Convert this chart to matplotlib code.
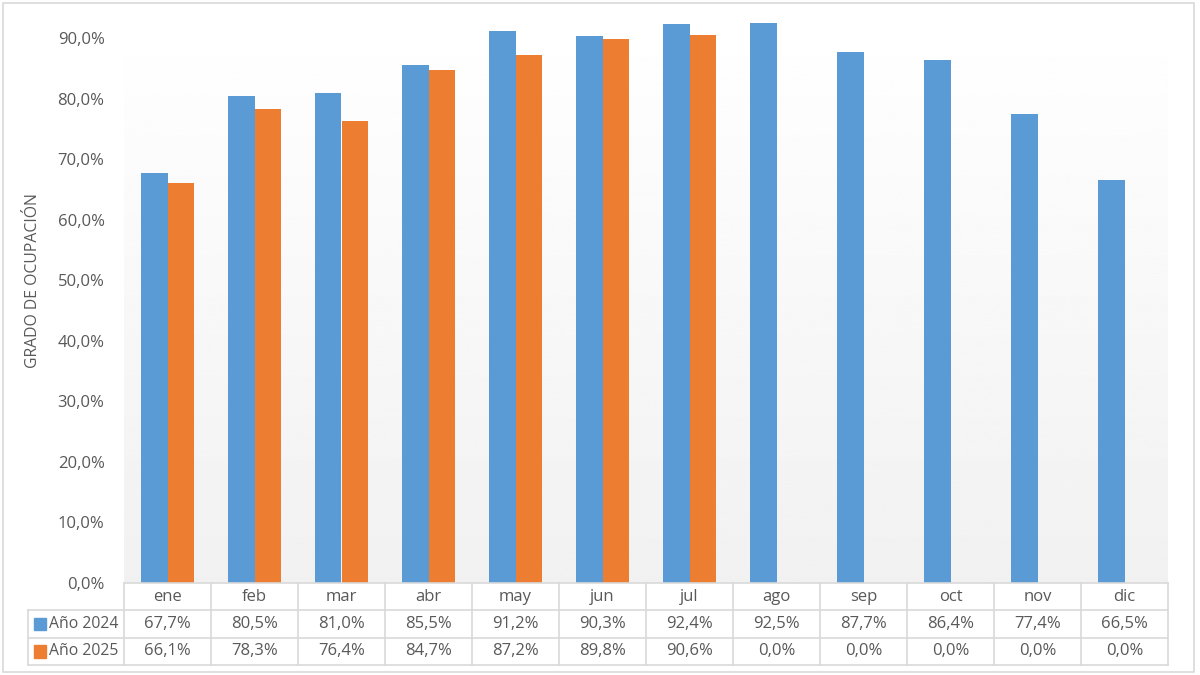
import numpy as np
import matplotlib.pyplot as plt
from matplotlib.patches import Rectangle
from matplotlib.ticker import FuncFormatter

plt.rcParams['font.family'] = ['Open Sans', 'DejaVu Sans']

meses = ['ene', 'feb', 'mar', 'abr', 'may', 'jun', 'jul', 'ago', 'sep', 'oct', 'nov', 'dic']
series = ['Año 2024', 'Año 2025']
ocup_2024 = [67.7, 80.5, 81.0, 85.5, 91.2, 90.3, 92.4, 92.5, 87.7, 86.4, 77.4, 66.5]
ocup_2025 = [66.1, 78.3, 76.4, 84.7, 87.2, 89.8, 90.6, 0.0, 0.0, 0.0, 0.0, 0.0]
colores = ['#5B9BD5', '#ED7D31']

W, H = 1200, 675
fig = plt.figure(figsize=(12, 6.75), dpi=100)
gris_txt = '#595959'
gris_lin = '#D9D9D9'

# plot area in pixels
x0, x1 = 124, 1168
y_top, y_zero, y_bot = 14, 583, 665

ax = fig.add_axes([x0 / W, 1 - y_zero / H, (x1 - x0) / W, (y_zero - y_top) / H])
ax.set_xlim(-0.5, 11.5)
ax.set_ylim(0, 94)

# gradient background
grad = np.linspace(0.945, 1.0, 256).reshape(-1, 1)
ax.imshow(grad, extent=[0, 1, 0, 1], transform=ax.transAxes, cmap='gray',
          vmin=0, vmax=1, aspect='auto', zorder=0, origin='lower')

x = np.arange(len(meses))
bw = 0.305
ax.bar(x - bw / 2, ocup_2024, bw, color=colores[0], zorder=2)
ax.bar(x + bw / 2, ocup_2025, bw, color=colores[1], zorder=2)

ax.set_yticks(np.arange(0, 91, 10))
ax.yaxis.set_major_formatter(FuncFormatter(lambda v, p: f'{v:.1f}%'.replace('.', ',')))
ax.tick_params(axis='y', length=0, labelsize=12, labelcolor=gris_txt, pad=14)
ax.set_xticks([])
for s in ax.spines.values():
    s.set_visible(False)
fig.text(33 / W, 1 - 281 / H, 'GRADO DE OCUPACIÓN', rotation=90, ha='center', va='center',
         fontsize=11.3, color=gris_txt)

# data table below
tab = fig.add_axes([x0 / W, 1 - y_bot / H, (x1 - x0) / W, (y_bot - y_zero) / H])
tab.set_xlim(-0.5, 11.5)
tab.set_ylim(3, 0)
tab.axis('off')
lk = dict(color=gris_lin, lw=1.2, clip_on=False)
col_px = (x1 - x0) / 12
x_leg = -0.5 + (28 - x0) / col_px

tab.plot([-0.5, 11.5], [0, 0], **lk)
for r in (1, 2, 3):
    tab.plot([x_leg, 11.5], [r, r], **lk)
for c in range(13):
    tab.plot([c - 0.5, c - 0.5], [0, 3], **lk)
tab.plot([x_leg, x_leg], [1, 3], **lk)

for i, m in enumerate(meses):
    tab.text(i, 0.5, m, ha='center', va='center', fontsize=12, color=gris_txt)
for r, vals in enumerate([ocup_2024, ocup_2025]):
    for i, v in enumerate(vals):
        tab.text(i, r + 1.5, f'{v:.1f}%'.replace('.', ','), ha='center', va='center',
                 fontsize=12, color=gris_txt)
    px = (34 - x0) / col_px - 0.5
    tab.add_patch(Rectangle((px, r + 1.27), 12 / col_px, 0.46, color=colores[r], clip_on=False))
    tab.text((49 - x0) / col_px - 0.5, r + 1.5, series[r], ha='left', va='center',
             fontsize=11.3, color=gris_txt, clip_on=False)

# outer border
fig.add_artist(Rectangle((3 / W, 3 / H), 1 - 9 / W, 1 - 6 / H, transform=fig.transFigure,
                         fill=False, edgecolor='#D9D9D9', lw=1.2))

fig.savefig('out.png', dpi=100, facecolor='white')
